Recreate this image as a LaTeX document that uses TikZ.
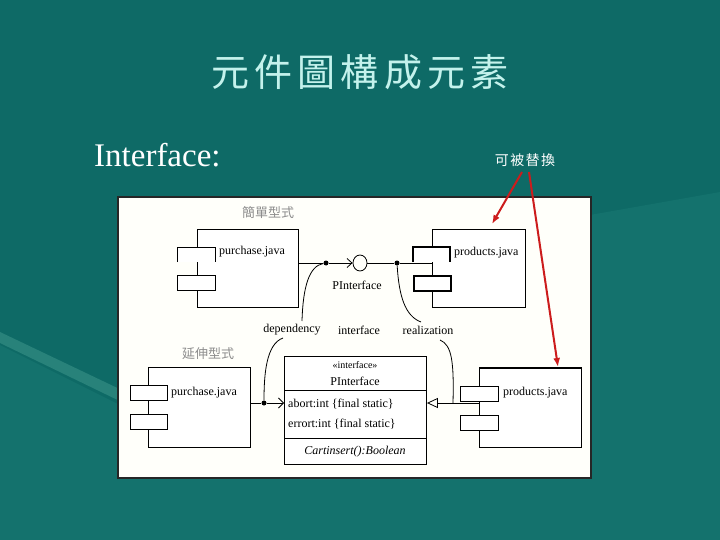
\documentclass[tikz,border=0pt]{standalone}
\usepackage{fontspec}
\setmainfont{Liberation Serif}
\newfontfamily\cjk{Noto Sans CJK TC}
\newfontfamily\cjktitle[LetterSpace=14]{Noto Sans CJK TC}
\newfontfamily\cjkspaced[LetterSpace=10]{Noto Sans CJK TC}
\usetikzlibrary{arrows.meta, positioning, shapes.geometric}
\definecolor{slidebg}{RGB}{14,106,102}
\definecolor{slidebgl}{RGB}{20,114,109}
\definecolor{slideband}{RGB}{40,130,122}
\definecolor{slidetitle}{RGB}{196,242,236}
\definecolor{redarrow}{RGB}{204,28,28}
\definecolor{framecream}{RGB}{255,255,250}

\begin{document}
\begin{tikzpicture}[x=1pt, y=-1pt, >=Latex,
    body/.style={draw, line width=0.9pt, fill=white, inner sep=0pt, anchor=north west},
    tab/.style={draw, line width=0.9pt, fill=white, inner sep=0pt, anchor=north west,
                minimum width=38pt, minimum height=15pt},
    txt/.style={font=\fontsize{12}{14}\selectfont, inner sep=1pt},
    graylbl/.style={font=\cjk\fontsize{13}{15}\selectfont, text=black!45, inner sep=1pt},
    wire/.style={line width=0.8pt},
    dot/.style={circle, fill=black, inner sep=0pt, minimum size=5pt}]

    % slide background
    \useasboundingbox (0,0) rectangle (720,540);
    \fill[slidebg] (0,0) rectangle (720,540);
    \fill[slidebgl] (0,345) -- (130,410) -- (590,215) -- (720,192) -- (720,540) -- (0,540) -- cycle;
    \fill[slideband] (0,332) -- (130,394) -- (130,406) -- (0,343) -- cycle;

    % title and headings
    \node[text=slidetitle, font=\cjktitle\fontsize{38}{42}\selectfont] (title) at (360,72) {元件圖構成元素};
    \node[text=white, font=\fontsize{33}{38}\selectfont, anchor=west, inner sep=0pt] (iface) at (94,155) {Interface:};
    \node[text=white, font=\cjkspaced\fontsize{14}{16}\selectfont] (swap) at (525,160) {可被替換};

    % diagram frame
    \node[draw=black!85, line width=2pt, fill=framecream, inner sep=0pt, anchor=north west,
          minimum width=473pt, minimum height=281pt] (frame) at (117,196) {};

    % ---- simple form ----
    \node[graylbl] (simple) at (268,213) {簡單型式};

    \node[body, minimum width=101pt, minimum height=78pt] (purA) at (197,229) {};
    \fill[white] (177,247) rectangle (215,262);
    \draw[line width=0.9pt] (177,262) -- (177,247) -- (215,247) -- (215,262);
    \node[tab] (purAtab) at (177,275) {};
    \node[txt, anchor=west] (purAname) at (218,252) {purchase.java};

    \node[body, line width=1.3pt, minimum width=93pt, minimum height=78pt] (prodA) at (432,229) {};
    \fill[white] (413,247) rectangle (450,262);
    \draw[line width=1.6pt] (413,262) -- (413,247) -- (450,247) -- (450,262);
    \node[tab, line width=1.6pt, minimum width=37pt] (prodAtab) at (413,275) {};
    \node[txt, anchor=west] (prodAname) at (453,253) {products.java};

    \node[draw, line width=0.8pt, ellipse, minimum width=14pt, minimum height=16pt, inner sep=0pt] (lolly) at (360,263) {};
    \node[txt] (lollyname) at (357,285) {PInterface};
    \node[dot] (depA) at (326,263) {};
    \node[dot] (realA) at (397,263) {};
    \coordinate (prodAin) at (432,263);

    \draw[wire] (purA.east |- depA) -- (depA);
    \draw[wire, -{Straight Barb[length=5pt, width=9pt]}] (depA) -- (lolly.west);
    \draw[wire] (lolly.east) -- (realA) -- (prodAin);

    \node[txt] (dep) at (292,330) {dependency};
    \node[txt] (ifc) at (359,330) {interface};
    \node[txt] (real) at (428,330) {realization};

    \draw[wire] (302,321) .. controls (303,287) and (309,266) .. (depA);
    \draw[wire] (realA) .. controls (399,296) and (405,316) .. (421,322);

    % ---- extended form ----
    \node[graylbl] (extended) at (208,354) {延伸型式};

    \node[body, line width=1.3pt, minimum width=102pt, minimum height=80pt] (purB) at (148,367) {};
    \node[tab, minimum width=37pt] (purBtabA) at (130,385) {};
    \node[tab, minimum width=37pt] (purBtabB) at (130,414) {};
    \node[txt, anchor=west] (purBname) at (170,393) {purchase.java};

    \node[draw, line width=0.9pt, fill=white, inner sep=0pt, anchor=north west,
          minimum width=142pt, minimum height=108pt] (pif) at (284,356) {};
    \draw[line width=0.9pt] (284,390) -- (426,390);
    \draw[line width=0.9pt] (284,438) -- (426,438);
    \node[txt, font=\fontsize{10}{12}\selectfont] (stereo) at (355,365) {«interface»};
    \node[txt] (pifname) at (355,381) {PInterface};
    \node[txt, anchor=west] (attrA) at (287,404) {abort:int \{final static\}};
    \node[txt, anchor=west] (attrB) at (287,424) {errort:int \{final static\}};
    \node[txt, font=\itshape\fontsize{12}{14}\selectfont] (oper) at (355,452) {Cartinsert():Boolean};

    \node[body, line width=1.1pt, minimum width=102pt, minimum height=79pt] (prodB) at (479,368) {};
    \draw[line width=1.8pt] (prodB.north west) -- (prodB.north east);
    \node[tab, line width=1.2pt] (prodBtabA) at (460,386) {};
    \node[tab, line width=1.2pt] (prodBtabB) at (460,415) {};
    \node[txt, anchor=west] (prodBname) at (502,393) {products.java};

    \node[dot] (depB) at (264,403) {};
    \coordinate (realB) at (453,403);
    \draw[wire] (purB.east |- depB) -- (depB);
    \draw[wire, -{Straight Barb[length=5pt, width=10pt]}] (depB) -- (pif.west |- depB);
    \draw[wire, -{Triangle[open, length=11pt, width=10pt]}] (prodB.west |- realB) -- (pif.east |- realB);

    \draw[wire] (283,338) .. controls (266,344) and (264,375) .. (depB);
    \draw[wire] (440,340) .. controls (452,345) and (454,362) .. (realB);

    % red pointers
    \draw[redarrow, line width=2pt, -{Latex[length=9pt, width=7pt]}] (swap.south) ++(-3,2) -- (492,224);
    \draw[redarrow, line width=2pt, -{Latex[length=9pt, width=7pt]}] (swap.south) ++(4,2) -- (558,367);
\end{tikzpicture}
\end{document}
